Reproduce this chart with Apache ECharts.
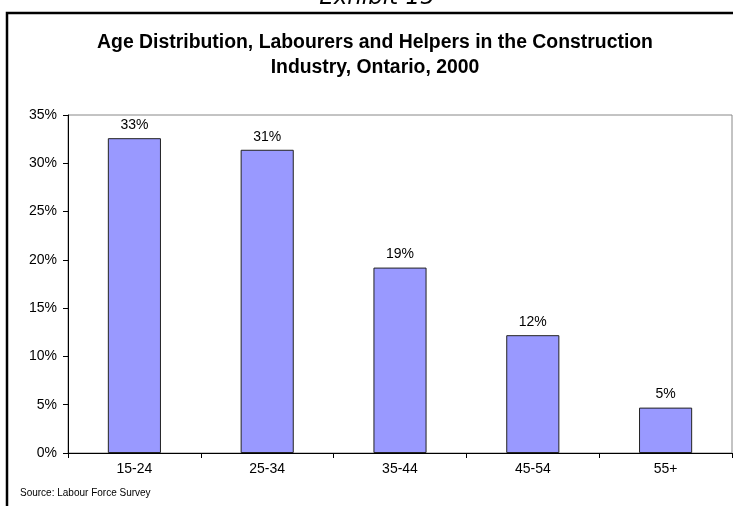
<!DOCTYPE html>
<html>
<head>
<meta charset="utf-8">
<script src="https://cdn.jsdelivr.net/npm/echarts@6/dist/echarts.min.js"></script>
<style>
  html, body { margin: 0; padding: 0; background: #fff; }
  #chart { width: 733px; height: 506px; }
</style>
</head>
<body>
<div id="chart"></div>
<script>
// Age groups and their share of labourers and helpers (percent)
const ageGroups = ['15-24', '25-34', '35-44', '45-54', '55+'];
const shares = [32.6, 31.4, 19.2, 12.2, 4.7];
const yTicks = [0, 5, 10, 15, 20, 25, 30, 35];

const chart = echarts.init(document.getElementById('chart'), null, { renderer: 'canvas' });

chart.setOption({
  animation: false,
  backgroundColor: '#fff',
  textStyle: { fontFamily: 'Liberation Sans, Arial, sans-serif' },
  graphic: [
    {
      type: 'text',
      x: 377,
      y: -13,
      style: {
        text: 'Exhibit 15',
        font: 'italic 23px "DejaVu Sans", Verdana, sans-serif',
        fill: '#000',
        align: 'center',
        verticalAlign: 'top'
      },
      z: 10
    },
    {
      type: 'rect',
      shape: { x: 7, y: 13, width: 740, height: 500 },
      style: { fill: 'none', stroke: '#000', lineWidth: 2.5 },
      z: 10
    },
    {
      type: 'text',
      x: 375,
      y: 30,
      style: {
        text: 'Age Distribution, Labourers and Helpers in the Construction\nIndustry, Ontario, 2000',
        font: 'bold 19.4px "Liberation Sans", Arial, sans-serif',
        fill: '#000',
        align: 'center',
        verticalAlign: 'top',
        lineHeight: 25
      },
      z: 10
    },
    {
      type: 'text',
      x: 20,
      y: 488,
      style: {
        text: 'Source: Labour Force Survey',
        font: '10px "Liberation Sans", Arial, sans-serif',
        fill: '#000',
        verticalAlign: 'top'
      },
      z: 10
    }
  ],
  grid: {
    left: 68, right: 1, top: 115, bottom: 53, containLabel: false,
    show: true, borderColor: '#888', borderWidth: 1
  },
  xAxis: {
    type: 'category',
    data: ageGroups,
    axisLine: { lineStyle: { color: '#000', width: 1 } },
    axisTick: { show: true, alignWithLabel: false, length: 5, lineStyle: { color: '#000' } },
    axisLabel: { color: '#000', fontSize: 14, margin: 9 }
  },
  yAxis: {
    type: 'value',
    min: yTicks[0],
    max: yTicks[yTicks.length - 1],
    interval: 5,
    axisLine: { show: true, lineStyle: { color: '#000', width: 1 } },
    axisTick: { show: true, length: 5, lineStyle: { color: '#000' } },
    splitLine: { show: false },
    axisLabel: {
      color: '#000',
      fontSize: 14,
      margin: 11,
      formatter: v => v + '%'
    }
  },
  series: [
    {
      type: 'bar',
      data: shares,
      barWidth: '40%',
      itemStyle: { color: '#9999FF', borderColor: '#222', borderWidth: 1 },
      label: {
        show: true,
        position: 'top',
        distance: 6,
        color: '#000',
        fontSize: 14,
        formatter: p => Math.round(p.value) + '%'
      }
    }
  ]
});
</script>
</body>
</html>
